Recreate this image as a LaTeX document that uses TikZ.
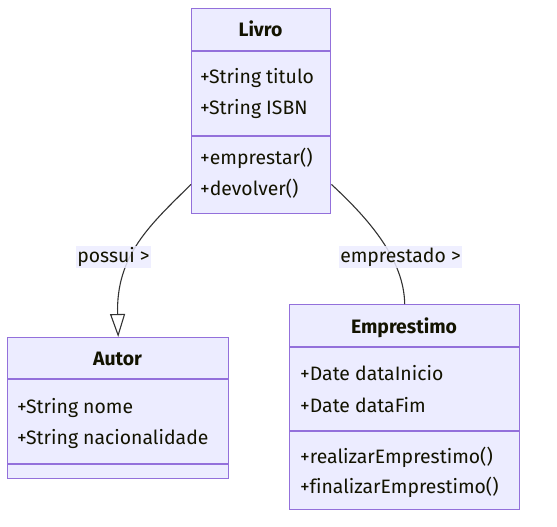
\documentclass[tikz,border=0pt]{standalone}
\usepackage{fontspec}
\setmainfont{Fira Sans}[Ligatures=NoCommon]
\usetikzlibrary{arrows.meta,calc}
\definecolor{boxfill}{HTML}{ECECFF}
\definecolor{boxline}{HTML}{9370DB}
\definecolor{edgecol}{HTML}{333333}
\definecolor{txt}{HTML}{131300}
\begin{document}
\begin{tikzpicture}[x=1pt,y=-1pt,
  classbox/.style={draw=boxline, fill=boxfill, line width=1.4pt, inner sep=0pt, anchor=north west},
  ctitle/.style={font=\fontsize{19.4}{22}\selectfont\bfseries, text=txt, inner sep=0pt, anchor=mid},
  member/.style={font=\fontsize{19.4}{22}\selectfont, text=txt, inner sep=0pt, anchor=mid west},
  divider/.style={draw=boxline, line width=1.4pt},
  conn/.style={draw=edgecol, line width=1.1pt},
  elabel/.style={fill=boxfill, fill opacity=0.85, text opacity=1, text=txt, font=\fontsize{19.4}{22}\selectfont, inner xsep=1pt, inner ysep=0pt, minimum height=22pt, anchor=center}]
\useasboundingbox (0,0) rectangle (557,527);

% Livro
\node[classbox, minimum width=139pt, minimum height=205pt] (livro) at (191,8) {};
\draw[divider] ($(livro.north west)+(0,43)$) -- ($(livro.north east)+(0,43)$);
\draw[divider] ($(livro.north west)+(0,128)$) -- ($(livro.north east)+(0,128)$);
\node[ctitle] (livroT) at (260.5,33.5) {Livro};
\node[member] (livroA1) at (200,80.5) {+String titulo};
\node[member] (livroA2) at (200,111.5) {+String ISBN};
\node[member] (livroM1) at (200,161.5) {+emprestar()};
\node[member] (livroM2) at (200,192.5) {+devolver()};

% Autor
\node[classbox, minimum width=221pt, minimum height=141pt] (autor) at (7,337) {};
\draw[divider] ($(autor.north west)+(0,42)$) -- ($(autor.north east)+(0,42)$);
\draw[divider] ($(autor.north west)+(0,127)$) -- ($(autor.north east)+(0,127)$);
\node[ctitle] (autorT) at (117.5,362.5) {Autor};
\node[member] (autorA1) at (17,410.5) {+String nome};
\node[member] (autorA2) at (17,441.5) {+String nacionalidade};

% Emprestimo
\node[classbox, minimum width=230pt, minimum height=205pt] (emp) at (289,304) {};
\draw[divider] ($(emp.north west)+(0,43)$) -- ($(emp.north east)+(0,43)$);
\draw[divider] ($(emp.north west)+(0,127)$) -- ($(emp.north east)+(0,127)$);
\node[ctitle] (empT) at (404,330.5) {Emprestimo};
\node[member] (empA1) at (300,377.5) {+Date dataInicio};
\node[member] (empA2) at (300,409.5) {+Date dataFim};
\node[member] (empM1) at (300,460.5) {+realizarEmprestimo()};
\node[member] (empM2) at (300,490.5) {+finalizarEmprestimo()};

% connectors
\coordinate (s1) at ($(livro.south west)+(0,-30)$);
\coordinate (s2) at ($(livro.south east)+(0,-30)$);
\draw[conn, -{Triangle[open, length=23pt, width=15pt, fill=white, line width=1.1pt]}]
  (s1) .. controls (150,225) and (116,255) .. (autor.north);
\draw[conn] (s2) .. controls (370,220) and (404,260) .. (emp.north);

\node[elabel] (lab1) at (113.5,257) {possui >};
\node[elabel] (lab2) at (400.5,257) {emprestado >};
\end{tikzpicture}
\end{document}
